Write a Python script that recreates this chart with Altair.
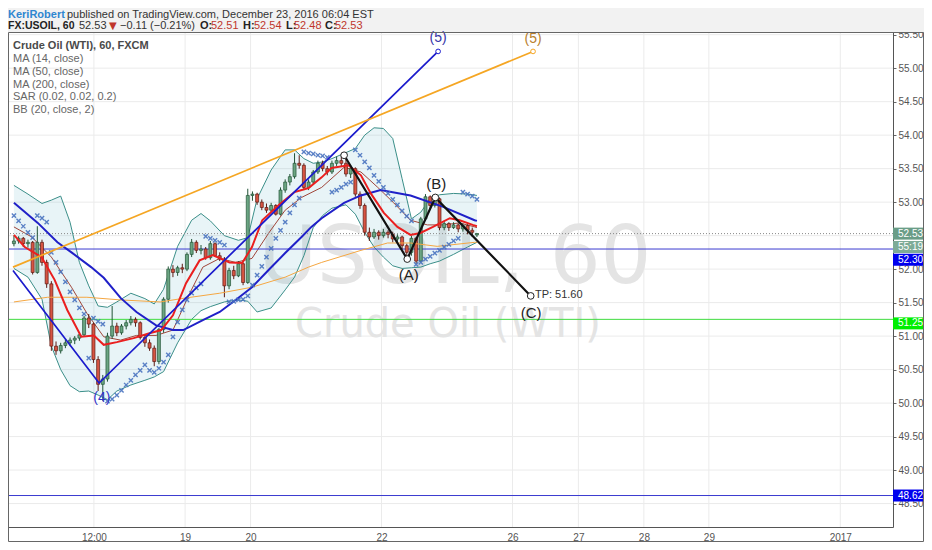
import json
import altair as alt
import pandas as pd

# FX:USOIL, 60 - candles (one slot per candle)
opens = [52.38, 52.42, 52.46, 52.38, 52.40, 51.95, 52.40, 52.10, 51.78, 50.85,
         50.78, 50.86, 50.90, 50.94, 50.97, 51.02, 51.27, 51.18, 50.65, 50.28,
         50.36, 51.00, 51.15, 51.05, 51.15, 51.20, 51.25, 51.20, 50.98, 50.90,
         50.82, 50.62, 51.10, 51.55, 52.00, 51.95, 52.02, 52.00, 52.22, 52.40,
         52.28, 52.30, 52.17, 52.38, 52.20, 52.15, 51.75, 51.98, 51.90, 52.08,
         51.80, 53.10, 53.12, 53.00, 52.92, 52.88, 52.95, 52.82, 53.18, 53.30,
         53.38, 53.58, 53.55, 53.22, 53.30, 53.45, 53.58, 53.50, 53.45, 53.58,
         53.62, 53.58, 53.42, 53.50, 53.12, 52.95, 52.55, 52.48, 52.55, 52.50,
         52.55, 52.52, 52.45, 52.48, 52.35, 52.25, 52.46, 52.12, 52.75, 53.08,
         52.95, 53.05, 52.62, 52.68, 52.62, 52.66, 52.60, 52.65, 52.58, 52.51]
highs = [52.50, 52.49, 52.48, 52.44, 52.42, 52.64, 52.44, 52.14, 51.82, 50.92,
         50.90, 50.95, 50.98, 51.00, 51.05, 51.30, 51.33, 51.20, 50.70, 50.42,
         51.05, 51.45, 51.20, 51.18, 51.24, 51.30, 51.28, 51.22, 51.02, 50.95,
         50.86, 51.12, 51.58, 52.04, 52.06, 52.05, 52.08, 52.25, 52.45, 52.43,
         52.36, 52.33, 52.42, 52.40, 52.25, 52.18, 52.02, 52.05, 52.12, 52.10,
         53.20, 53.16, 53.14, 53.04, 52.98, 52.99, 52.97, 53.22, 53.34, 53.42,
         53.73, 53.70, 53.58, 53.34, 53.48, 53.62, 53.62, 53.54, 53.62, 53.68,
         53.70, 53.73, 53.55, 53.52, 53.16, 52.98, 52.62, 52.60, 52.58, 52.60,
         52.58, 52.56, 52.52, 52.50, 52.38, 52.50, 52.48, 52.78, 53.12, 53.10,
         53.10, 53.07, 52.72, 52.70, 52.70, 52.68, 52.68, 52.67, 52.62, 52.54]
lows = [52.34, 52.38, 52.33, 52.32, 51.92, 51.93, 52.05, 51.72, 50.78, 50.72,
        50.74, 50.82, 50.85, 50.88, 50.93, 51.00, 51.12, 50.60, 50.18, 50.03,
        50.32, 50.96, 51.00, 51.02, 51.10, 51.16, 51.14, 50.95, 50.84, 50.78,
        50.55, 50.58, 51.05, 51.50, 51.88, 51.90, 51.94, 51.97, 52.18, 52.24,
        52.22, 52.14, 52.14, 52.18, 52.12, 51.58, 51.70, 51.85, 51.88, 51.76,
        51.78, 53.02, 52.96, 52.88, 52.84, 52.85, 52.80, 52.80, 53.14, 53.25,
        53.35, 53.50, 53.18, 53.18, 53.27, 53.42, 53.46, 53.40, 53.42, 53.54,
        53.54, 53.38, 53.36, 53.08, 52.90, 52.50, 52.42, 52.45, 52.44, 52.47,
        52.46, 52.40, 52.40, 52.30, 52.18, 52.20, 52.08, 52.10, 52.72, 52.90,
        52.92, 52.58, 52.58, 52.57, 52.60, 52.55, 52.56, 52.52, 52.48, 52.48]
closes = [52.42, 52.46, 52.38, 52.40, 51.95, 52.40, 52.10, 51.78, 50.85, 50.78,
          50.86, 50.90, 50.94, 50.97, 51.02, 51.27, 51.18, 50.65, 50.28, 50.36,
          51.00, 51.15, 51.05, 51.15, 51.20, 51.25, 51.20, 50.98, 50.90, 50.82,
          50.62, 51.10, 51.55, 52.00, 51.95, 52.02, 52.00, 52.22, 52.40, 52.28,
          52.30, 52.17, 52.38, 52.20, 52.15, 51.75, 51.98, 51.90, 52.08, 51.80,
          53.10, 53.12, 53.00, 52.92, 52.88, 52.95, 52.82, 53.18, 53.30, 53.38,
          53.58, 53.55, 53.22, 53.30, 53.45, 53.58, 53.50, 53.45, 53.58, 53.62,
          53.58, 53.42, 53.50, 53.12, 52.95, 52.55, 52.48, 52.55, 52.50, 52.55,
          52.52, 52.45, 52.48, 52.35, 52.25, 52.46, 52.12, 52.75, 53.08, 52.95,
          53.05, 52.62, 52.68, 52.62, 52.66, 52.60, 52.65, 52.58, 52.55, 52.53]

# SAR (0.02, 0.02, 0.2), one dot per candle
sar = [52.80, 52.72, 52.64, 52.55, 52.47, 52.80, 52.76, 52.70, 52.25, 52.10,
       51.96, 51.81, 51.66, 51.54, 51.42, 51.33, 50.67, 51.27, 51.22, 51.18,
       50.03, 50.06, 50.12, 50.19, 50.27, 50.34, 50.42, 50.49, 50.57, 50.49,
       50.46, 50.52, 50.61, 50.72, 50.99, 51.21, 51.39, 51.54, 51.64, 51.72,
       51.78, 52.49, 52.46, 52.43, 52.40, 52.36, 51.51, 51.52, 51.54, 51.55,
       51.60, 51.76, 51.91, 52.04, 52.18, 52.31, 52.46, 52.58, 52.70, 52.84,
       52.96, 53.06, 53.75, 53.73, 53.72, 53.70, 53.69, 53.67, 53.15, 53.18,
       53.22, 53.27, 53.30, 53.78, 53.70, 53.60, 53.51, 53.40, 53.31, 53.22,
       53.13, 53.04, 52.96, 52.87, 52.79, 52.72, 52.07, 52.10, 52.15, 52.19,
       52.24, 52.28, 52.33, 52.37, 52.42, 52.46, 53.15, 53.12, 53.09, 53.04]

# moving averages (position in candle slots, value)
ma14_at = [0, 2.3, 5.9, 8.7, 11.4, 14.4, 17.1, 19.2, 22, 25.6, 28.8, 31.5, 34, 36.8,
           39.7, 42.5, 46.1, 48.8, 50.9, 53.1, 56.7, 60, 63, 65.8, 67.9, 71.5, 74.2,
           76.3, 79.1, 82, 84.8, 86.9, 89.6, 93.2, 95.3, 98.1, 99]
ma14 = [52.51, 52.33, 52.18, 51.84, 51.39, 50.99, 51.01, 50.87, 50.91, 50.97, 51.04,
        51.09, 51.31, 51.79, 52.13, 52.21, 52.10, 52.09, 52.33, 52.73, 52.96, 53.15,
        53.21, 53.37, 53.51, 53.55, 53.40, 53.13, 52.84, 52.63, 52.51, 52.54, 52.63,
        52.76, 52.73, 52.66, 52.64]
ma50_at = [0, 5.1, 9.3, 12.3, 16.5, 19.2, 22.8, 26.2, 30.4, 34, 36.2, 40.4, 44, 47.4,
           50.9, 54.5, 58, 61.5, 63.6, 65.8, 70.6, 74.2, 78.4, 84.8, 91.8, 98.5, 99]
ma50 = [52.99, 52.69, 52.40, 52.25, 52.03, 51.87, 51.57, 51.36, 51.16, 51.09, 51.09,
        51.24, 51.36, 51.54, 51.73, 51.99, 52.24, 52.48, 52.63, 52.76, 52.99, 53.10,
        53.18, 53.10, 52.93, 52.73, 52.72]
ma200_at = [0, 7.2, 15.6, 22.8, 31.3, 36.8, 44, 50.9, 58, 63, 65.8, 74.2, 79.9, 84.8,
            90.5, 98.5, 99]
ma200 = [51.51, 51.58, 51.58, 51.54, 51.51, 51.57, 51.64, 51.73, 51.88, 52.03, 52.10,
         52.28, 52.39, 52.39, 52.34, 52.40, 52.40]

# BB (20, close, 2)
bb_mid_at = [0, 3.8, 8, 12.3, 15.6, 19.2, 22.8, 26.2, 30.4, 34, 37.6, 40.4, 44, 47.4,
             50.9, 54.5, 58, 61.5, 65.8, 70.6, 74.2, 77.8, 81.2, 84.8, 88.4, 91.8,
             95.3, 98.5, 99]
bb_mid = [52.63, 52.48, 52.18, 51.73, 51.34, 50.99, 50.94, 51.01, 51.01, 51.09, 51.64,
          52.03, 52.16, 52.10, 52.16, 52.54, 52.88, 53.07, 53.22, 53.52, 53.45, 53.22,
          52.99, 52.73, 52.66, 52.66, 52.69, 52.63, 52.62]
bb_at = [0, 3, 6, 8, 10, 12, 14, 16, 18, 20, 22, 25, 28, 30, 32, 35, 38, 40, 42, 45,
         48, 50, 52, 55, 58, 60, 62, 64, 66, 68, 71, 73, 75, 77, 79, 81, 83, 85, 87,
         89, 91, 94, 97, 99]
bb_upper = [53.25, 53.12, 52.98, 53.03, 53.09, 52.70, 52.10, 51.75, 51.45, 51.43,
            51.51, 51.64, 51.56, 51.48, 51.70, 52.34, 52.73, 52.83, 52.72, 52.50,
            52.43, 52.47, 53.05, 53.48, 53.78, 53.78, 53.65, 53.58, 53.60, 53.65,
            53.74, 53.80, 54.00, 54.11, 54.10, 53.95, 53.35, 52.75, 52.85, 53.05,
            53.11, 53.13, 53.12, 53.10]
bb_lower = [52.01, 51.88, 51.55, 50.85, 50.50, 50.26, 50.17, 50.18, 50.12, 50.05,
            50.18, 50.27, 50.34, 50.39, 50.47, 50.90, 51.25, 51.38, 51.44, 51.51,
            51.54, 51.52, 51.36, 51.42, 51.69, 51.88, 52.20, 52.62, 52.80, 52.91,
            52.96, 52.82, 52.55, 52.33, 52.18, 52.05, 52.01, 52.02, 52.03, 52.08,
            52.12, 52.22, 52.33, 52.40]

# drawings
wave_at = [-0.2, 18.2, 90.7]
wave = [51.98, 50.30, 55.25]
trend_at = [-0.2, 111.0]
trend = [52.03, 55.25]
abc_at = [70.6, 84.1, 90.1, 110.5]
abc = [53.70, 52.15, 53.07, 51.60]
level_blue = [52.30, 48.62]
level_green = 51.25
last_price = 52.53

x_ticks = [17.1, 36.6, 50.6, 78.6, 106.6, 120.7, 134.7, 148.6, 176.7]
x_labels = ["12:00", "19", "20", "22", "26", "27", "28", "29", "2017"]
y_ticks = [48.5, 49.0, 49.5, 50.0, 50.5, 51.0, 51.5, 52.0, 52.5, 53.0, 53.5, 54.0,
           54.5, 55.0, 55.5]

badge_text = ["52.53", "55:19", "52.30", "51.25", "48.62"]
badge_at = [52.53, 52.33, 52.14, 51.19, 48.62]
badge_fill = ["#6a9d87", "#7eab97", "#0000ee", "#00ee00", "#0000ee"]

FONT = "Liberation Sans"
XS = alt.Scale(domain=[-0.2, 186.9], nice=False, zero=False)
YS = alt.Scale(domain=[48.15, 55.54], nice=False, zero=False)
HALF = 6 / 67  # half a badge height, in price units

x_axis = alt.Axis(
    values=x_ticks, grid=False, ticks=False, domainColor="#555", labelColor="#555",
    labelFont=FONT, labelFontSize=10, labelPadding=5, title=None,
    labelExpr="%s[indexof(%s, datum.value)]" % (json.dumps(x_labels), json.dumps(x_ticks)),
)
y_axis = alt.Axis(
    orient="right", values=y_ticks, format=".2f", grid=False, tickSize=3,
    tickColor="#666", domainColor="#555", labelColor="#555", labelFont=FONT,
    labelFontSize=10, labelPadding=2, title=None,
)


def X(f=None, datum=None):
    if datum is not None:
        return alt.X(datum=datum, type="quantitative", scale=XS, axis=x_axis)
    return alt.X(f, type="quantitative", scale=XS, axis=x_axis)


def Y(f=None, datum=None):
    if datum is not None:
        return alt.Y(datum=datum, type="quantitative", scale=YS, axis=y_axis)
    return alt.Y(f, type="quantitative", scale=YS, axis=y_axis)


one = pd.DataFrame({"k": [0]})


def label(text, x, y, size=11, color="#333", weight="normal", align="left", font=FONT):
    return alt.Chart(one).mark_text(
        text=text, align=align, baseline="middle", fontSize=size,
        color=color, fontWeight=weight, font=font
    ).encode(x=alt.value(x), y=alt.value(y))


def curve(at, vals, color, width):
    df = pd.DataFrame({"i": at, "v": vals})
    return alt.Chart(df).mark_line(color=color, strokeWidth=width).encode(x=X("i"), y=Y("v"))


def tag(text, at, v, color, size=15, align="center"):
    return alt.Chart(one).mark_text(
        text=text, font=FONT, fontSize=size, color=color, align=align, baseline="middle"
    ).encode(x=X(datum=at), y=Y(datum=v))


candles = pd.DataFrame({"i": range(len(closes)), "o": opens, "h": highs, "l": lows, "c": closes})
candles["dir"] = ["up" if c >= o else "down" for o, c in zip(opens, closes)]

layers = []

# grey header band
layers.append(alt.Chart(one).mark_rect(color="#f2f2f2").encode(
    x=alt.value(0), x2=alt.value(916), y=alt.value(-24), y2=alt.value(0)))

# grid
layers.append(alt.Chart(pd.DataFrame({"v": x_ticks})).mark_rule(color="#ebebeb").encode(x=X("v")))
layers.append(alt.Chart(pd.DataFrame({"v": y_ticks})).mark_rule(color="#ebebeb").encode(y=Y("v")))

# watermark
layers.append(alt.Chart(one).mark_text(
    text="USOIL, 60", font="DejaVu Sans", fontSize=80, color="#e4e4e4",
    align="center", baseline="alphabetic"
).encode(x=X(datum=94.3), y=Y(datum=51.79)))
layers.append(alt.Chart(one).mark_text(
    text="Crude Oil (WTI)", font="DejaVu Sans", fontSize=40, color="#e4e4e4",
    align="center", baseline="alphabetic"
).encode(x=X(datum=92.8), y=Y(datum=50.99)))

# Bollinger bands
bb = pd.DataFrame({"i": bb_at, "u": bb_upper, "d": bb_lower})
layers.append(alt.Chart(bb).mark_area(color="#5fb3c6", opacity=0.14).encode(
    x=X("i"), y=Y("u"), y2="d"))
layers.append(curve(bb_at, bb_upper, "#3b8f89", 1))
layers.append(curve(bb_at, bb_lower, "#3b8f89", 1))
layers.append(curve(bb_mid_at, bb_mid, "#a0463a", 1))

# horizontal levels
for lv in level_blue:
    layers.append(alt.Chart(one).mark_rule(color="#3a3ad0", strokeWidth=1).encode(y=Y(datum=lv)))
layers.append(alt.Chart(one).mark_rule(color="#3fdc3f", strokeWidth=1).encode(y=Y(datum=level_green)))
layers.append(alt.Chart(one).mark_rule(color="#888", strokeWidth=1, strokeDash=[1, 2]).encode(
    y=Y(datum=last_price)))

# candles
layers.append(alt.Chart(candles).mark_rule(strokeWidth=1).encode(
    x=X("i"), y=Y("l"), y2="h",
    color=alt.Color("dir:N", scale=alt.Scale(domain=["up", "down"], range=["#225437", "#5b1a13"]),
                    legend=None)))
layers.append(alt.Chart(candles).mark_bar(size=3, strokeWidth=0.7).encode(
    x=X("i"), y=Y("o"), y2="c",
    fill=alt.Fill("dir:N", scale=alt.Scale(domain=["up", "down"], range=["#6ba583", "#d75442"]),
                  legend=None),
    stroke=alt.Stroke("dir:N", scale=alt.Scale(domain=["up", "down"], range=["#225437", "#5b1a13"]),
                      legend=None)))

# moving averages
layers.append(curve(ma200_at, ma200, "#f5a742", 1))
layers.append(curve(ma50_at, ma50, "#2020c8", 2))
layers.append(curve(ma14_at, ma14, "#ea1f1f", 2))

# parabolic SAR, small x crosses
layers.append(alt.Chart(pd.DataFrame({"i": range(len(sar)), "v": sar})).mark_point(
    shape="M-1,-1L1,1M-1,1L1,-1", filled=False, size=18, strokeWidth=1.4,
    color="#4a74c0", opacity=0.9
).encode(x=X("i"), y=Y("v")))

# wave drawings
layers.append(curve(wave_at, wave, "#1b1bcc", 1.7))
layers.append(curve(trend_at, trend, "#f5a623", 1.7))
layers.append(curve(abc_at, abc, "#111", 2.2))
layers.append(alt.Chart(pd.DataFrame({"i": abc_at, "v": abc})).mark_point(
    shape="circle", filled=True, fill="white", stroke="#222", strokeWidth=1, size=45, opacity=1
).encode(x=X("i"), y=Y("v")))
layers.append(alt.Chart(pd.DataFrame({"i": [wave_at[-1]], "v": [wave[-1]]})).mark_point(
    shape="circle", filled=True, fill="white", stroke="#1b1bcc", strokeWidth=1, size=22, opacity=1
).encode(x=X("i"), y=Y("v")))
layers.append(alt.Chart(pd.DataFrame({"i": [trend_at[-1]], "v": [trend[-1]]})).mark_point(
    shape="circle", filled=True, fill="white", stroke="#f5a623", strokeWidth=1, size=22, opacity=1
).encode(x=X("i"), y=Y("v")))

layers.append(tag("(4)", 18.8, 50.07, "#3434c8", 14))
layers.append(tag("(5)", 90.7, 55.45, "#3434a8", 14))
layers.append(tag("(5)", 111.0, 55.43, "#b8802c", 14))
layers.append(tag("(A)", 84.4, 51.91, "#222"))
layers.append(tag("(B)", 90.3, 53.27, "#222"))
layers.append(tag("(C)", 110.6, 51.34, "#222"))
layers.append(tag("TP: 51.60", 111.4, 51.61, "#333", 11, "left"))

# frame around plot and price/time scales
layers.append(alt.Chart(one).mark_rect(fillOpacity=0, stroke="#666", strokeWidth=1).encode(
    x=alt.value(0.5), x2=alt.value(915.5), y=alt.value(0.5), y2=alt.value(509.5)))

# price badges on the right scale
for t, c, f in zip(badge_text, badge_at, badge_fill):
    layers.append(alt.Chart(one).mark_rect(color=f).encode(
        x=alt.value(885), x2=alt.value(915), y=Y(datum=c + HALF), y2=alt.Y2(datum=c - HALF)))
    layers.append(alt.Chart(one).mark_text(
        text=t, font=FONT, fontSize=10, color="white", align="left", baseline="middle"
    ).encode(x=alt.value(890), y=Y(datum=c)))

# legend (top-left)
layers.append(label("Crude Oil (WTI), 60, FXCM", 5, 14, 11, "#4a4a4a", "bold"))
for k, t in enumerate(["MA (14, close)", "MA (50, close)", "MA (200, close)",
                       "SAR (0.02, 0.02, 0.2)", "BB (20, close, 2)"]):
    layers.append(label(t, 5, 27 + 12.8 * k, 11, "#666"))

# header
layers.append(label("KeriRobert", 0, -17, 11, "#2f86d0", "bold"))
layers.append(label("published on TradingView.com, December 23, 2016 06:04 EST", 59, -17, 11, "#333"))
layers.append(label("FX:USOIL, 60", 0, -6, 10.5, "#222", "bold"))
layers.append(label("52.53", 71, -6, 11, "#333"))
layers.append(label("\u25bc", 101, -6, 10, "#c0362c", font="DejaVu Sans"))
layers.append(label("\u22120.11 (\u22120.21%)", 112, -6, 11, "#333"))
for t, x, bold in [("O:", 192, True), ("52.51", 203, False), ("H:", 235, True), ("52.54", 246, False),
                   ("L:", 278, True), ("52.48", 286, False), ("C:", 317, True), ("52.53", 327, False)]:
    layers.append(label(t, x, -6, 11, "#222" if bold else "#c0362c", "bold" if bold else "normal"))

chart = alt.layer(*layers).properties(
    width=885, height=495,
    padding={"left": 0, "top": 24, "right": 31, "bottom": 15},
    autosize=alt.AutoSizeParams(type="none"),
    background="white",
).configure_view(strokeWidth=0)

chart.save("out.html", embed_options={"renderer": "svg", "actions": False})
